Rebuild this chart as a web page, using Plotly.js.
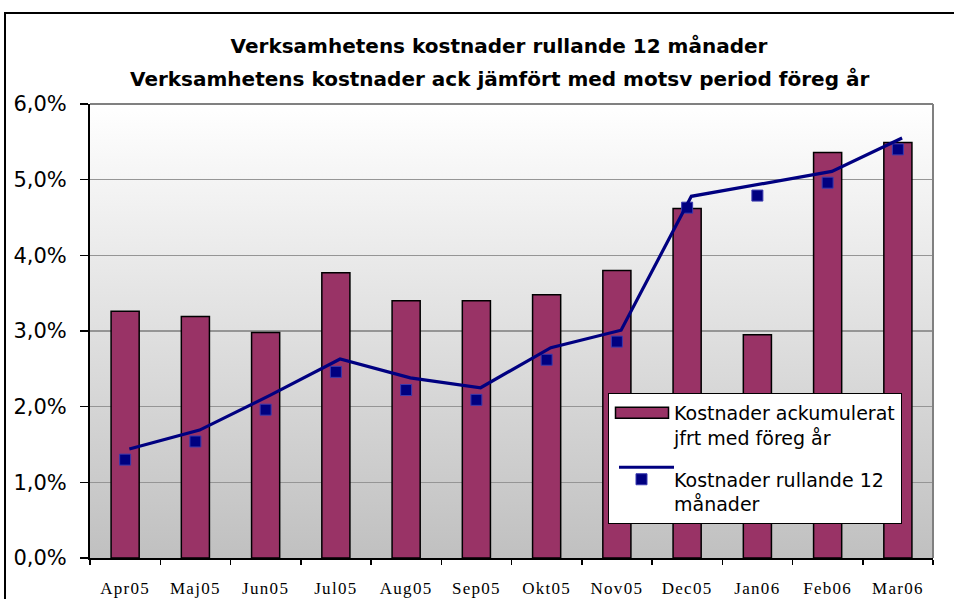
<!DOCTYPE html>
<html>
<head>
<meta charset="utf-8">
<script src="https://cdn.plot.ly/plotly-3.0.1.min.js"></script>
<style>
  html, body { margin: 0; padding: 0; background: #ffffff; }
  #wrap { position: relative; width: 954px; height: 599px; overflow: hidden; }
  #chart { width: 954px; height: 599px; }
  #frame { position: absolute; left: 4px; top: 12px; width: 960px; height: 600px;
           border-left: 2px solid #000; border-top: 2px solid #000; pointer-events: none; }
  .xtick text { letter-spacing: 1.3px; }
</style>
</head>
<body>
<div id="wrap">
  <div id="chart"></div>
  <div id="frame"></div>
</div>
<script>
// ---- data (percent) ----
var months = ["Apr05", "Maj05", "Jun05", "Jul05", "Aug05", "Sep05",
              "Okt05", "Nov05", "Dec05", "Jan06", "Feb06", "Mar06"];
var ackumulerat = [3.26, 3.19, 2.98, 3.77, 3.40, 3.40, 3.48, 3.80, 4.62, 2.95, 5.36, 5.49];
var rullandeLine = [1.44, 1.69, 2.15, 2.63, 2.38, 2.25, 2.78, 3.01, 4.78, 4.94, 5.11, 5.55];
var rullandeMarkers = [1.30, 1.54, 1.96, 2.46, 2.22, 2.09, 2.62, 2.86, 4.63, 4.79, 4.96, 5.40];
var titleLine1 = "Verksamhetens kostnader rullande 12 månader";
var titleLine2 = "Verksamhetens kostnader ack jämfört med motsv period föreg år";
var nameBars = "Kostnader ackumulerat<br>jfrt med föreg år";
var nameLine = "Kostnader rullande 12<br>månader";

var navy = "#000080";
var maroon = "#993366";

var traces = [
  {
    type: "bar", x: months, y: ackumulerat, name: nameBars, legendgroup: "a",
    marker: { color: maroon, line: { color: "#000000", width: 1.5 } },
    hoverinfo: "skip"
  },
  {
    type: "scatter", mode: "lines", x: months, y: rullandeLine, xaxis: "x2",
    line: { color: navy, width: 3.2 }, showlegend: false, hoverinfo: "skip"
  },
  {
    type: "scatter", mode: "markers", x: months, y: rullandeMarkers,
    marker: { symbol: "square", size: 11, color: navy, line: { color: "#3a3ab0", width: 1 } },
    showlegend: false, hoverinfo: "skip"
  },
  {
    // legend entry only
    type: "scatter", mode: "lines+markers", x: [null], y: [null], name: nameLine, legendgroup: "b",
    line: { color: navy, width: 3.2 },
    marker: { symbol: "square", size: 11, color: navy, line: { color: "#3a3ab0", width: 1 } },
    hoverinfo: "skip"
  }
];

var gradient = "data:image/svg+xml;utf8," + encodeURIComponent(
  "<svg xmlns='http://www.w3.org/2000/svg' width='10' height='100' viewBox='0 0 10 100' preserveAspectRatio='none'>" +
  "<defs><linearGradient id='g' x1='0' y1='0' x2='0' y2='1'>" +
  "<stop offset='0' stop-color='#ffffff'/><stop offset='1' stop-color='#c0c0c0'/>" +
  "</linearGradient></defs><rect x='0' y='0' width='10' height='100' fill='url(#g)'/></svg>");

var layout = {
  width: 954, height: 599,
  margin: { l: 90, r: 21, t: 104, b: 41 },
  paper_bgcolor: "#ffffff",
  plot_bgcolor: "rgba(0,0,0,0)",
  separators: ",.",
  showlegend: true,
  bargap: 0.6,
  title: {
    text: titleLine1,
    font: { family: "DejaVu Sans", size: 20, weight: 700, color: "#000000" },
    xref: "container", x: 499 / 954, xanchor: "center",
    yref: "container", y: 1 - 46 / 599, yanchor: "middle"
  },
  annotations: [{
    text: titleLine2, showarrow: false,
    xref: "paper", x: (499 - 90) / 843, xanchor: "center",
    yref: "paper", y: (558 - 79) / 454, yanchor: "middle",
    font: { family: "DejaVu Sans", size: 20, weight: 700, color: "#000000" }
  }],
  xaxis: {
    type: "category", range: [-0.5, 11.5], fixedrange: true,
    tickson: "boundaries", ticks: "outside", ticklen: 5, tickwidth: 1.5, tickcolor: "#000",
    showline: true, linecolor: "#000", linewidth: 2, showgrid: false,
    tickfont: { family: "Liberation Serif", size: 17, color: "#000" },
    ticklabelstandoff: 14
  },
  xaxis2: {
    type: "category", overlaying: "x", range: [-0.56, 11.44], visible: false, fixedrange: true
  },
  yaxis: {
    range: [0, 6], dtick: 1, tickformat: ".1f", ticksuffix: "%", fixedrange: true,
    ticks: "outside", ticklen: 8, tickwidth: 1.5, tickcolor: "#000",
    showline: true, linecolor: "#000", linewidth: 2,
    showgrid: true, gridcolor: "#959595", gridwidth: 1.3, zeroline: false,
    tickfont: { family: "DejaVu Sans", size: 21, color: "#000" },
    ticklabelstandoff: 9
  },
  legend: {
    x: (608 - 90) / 843, xanchor: "left",
    y: (558 - 393) / 454, yanchor: "top",
    bgcolor: "#ffffff", bordercolor: "#000000", borderwidth: 1,
    font: { family: "DejaVu Sans", size: 19, color: "#000" },
    valign: "top", itemwidth: 55, tracegroupgap: 14,
    traceorder: "grouped"
  },
  images: [{
    source: gradient, xref: "paper", yref: "paper",
    x: 0, y: 1, sizex: 1, sizey: 1, xanchor: "left", yanchor: "top",
    sizing: "stretch", layer: "below"
  }],
  shapes: [
    { type: "line", xref: "paper", yref: "paper", x0: 0, x1: 1, y0: 1, y1: 1,
      line: { color: "#808080", width: 2 } },
    { type: "line", xref: "paper", yref: "paper", x0: 1, x1: 1, y0: 0, y1: 1,
      line: { color: "#808080", width: 2 } }
  ]
};

Plotly.newPlot("chart", traces, layout, { staticPlot: true, displayModeBar: false }).then(function (gd) {
  var items = gd.querySelectorAll(".legend .traces");
  // widen the bar legend swatch into a flat rectangle like the original
  if (items[0]) {
    items[0].querySelectorAll(".legendpoints path").forEach(function (p) {
      p.setAttribute("d", "M-26,5.5H27V-5.5H-26Z");
    });
  }
  // in the original legend the line sits slightly above the marker
  if (items[1]) {
    items[1].querySelectorAll(".legendlines path").forEach(function (p) {
      p.setAttribute("transform", "translate(5,-12)");
    });
  }
});
</script>
</body>
</html>
